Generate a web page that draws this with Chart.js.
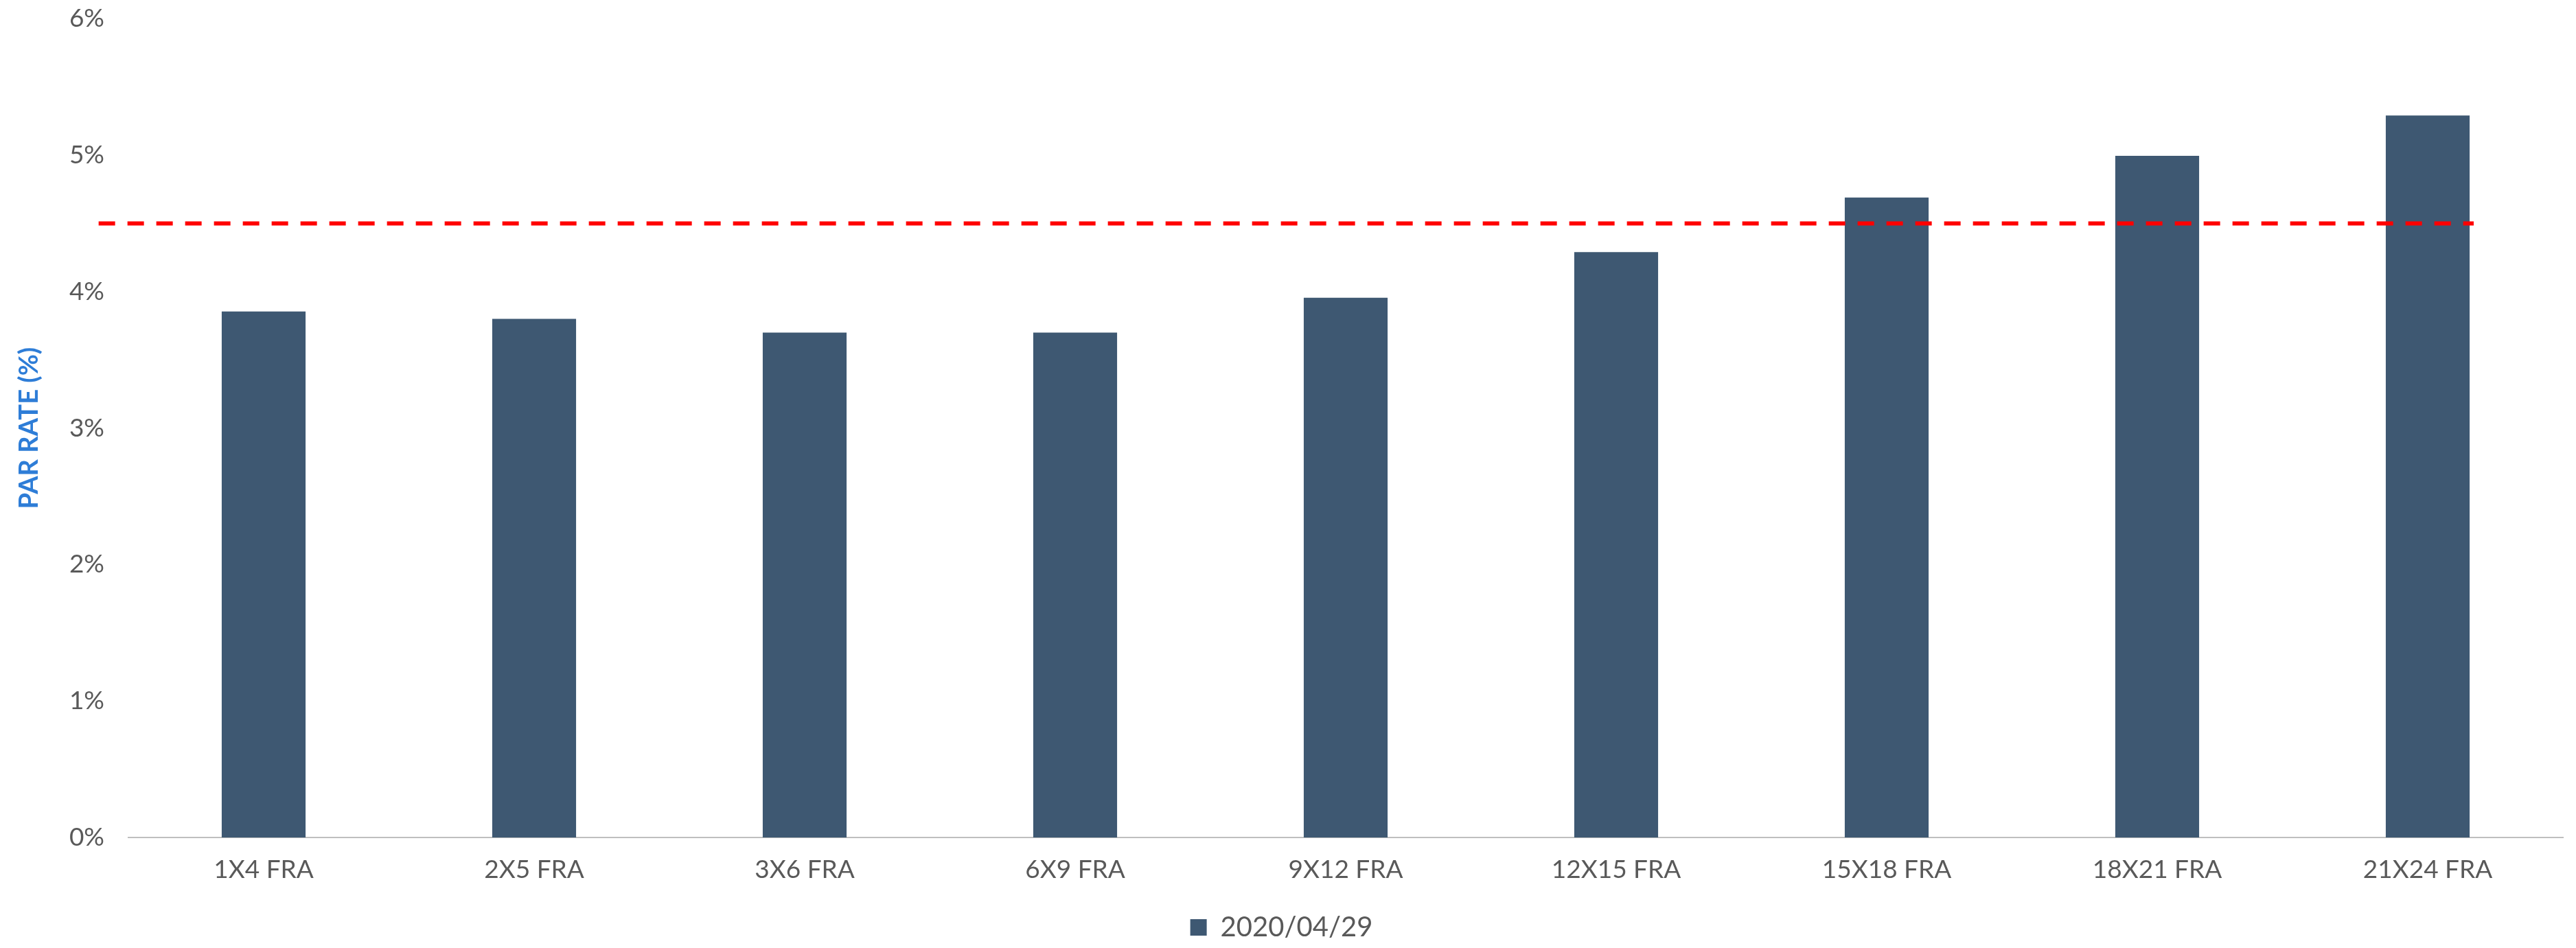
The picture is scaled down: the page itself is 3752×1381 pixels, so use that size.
<!DOCTYPE html>
<html>
<head>
<meta charset="utf-8">
<script src="https://cdn.jsdelivr.net/npm/chart.js@4"></script>
<style>
  html, body { margin: 0; padding: 0; background: #ffffff; }
  #wrap { width: 3752px; height: 1381px; position: relative; }
</style>
</head>
<body>
<div id="wrap"><canvas id="c" width="3752" height="1381"></canvas></div>
<script>
const categories = ['1X4 FRA', '2X5 FRA', '3X6 FRA', '6X9 FRA', '9X12 FRA', '12X15 FRA', '15X18 FRA', '18X21 FRA', '21X24 FRA'];
const seriesName = '2020/04/29';
const parRates = [3.855, 3.80, 3.70, 3.70, 3.955, 4.29, 4.69, 4.995, 5.29];
const refLevel = 4.5;
const refLineX = [-0.61, 8.17];
const yTicks = [0, 1, 2, 3, 4, 5, 6];

const FONT = 'Lato, "Open Sans", sans-serif';
const TXT = '#595959';

new Chart(document.getElementById('c'), {
  type: 'bar',
  data: {
    labels: categories,
    datasets: [
      {
        type: 'bar',
        label: seriesName,
        data: parRates,
        backgroundColor: '#3E5872',
        borderWidth: 0,
        barPercentage: 0.31,
        categoryPercentage: 1.0,
        grouped: false,
        order: 1
      },
      {
        type: 'line',
        label: 'ref',
        xAxisID: 'x2',
        data: refLineX.map(x => ({ x: x, y: refLevel })),
        borderColor: '#FF0000',
        borderWidth: 6,
        borderDash: [24, 18],
        pointRadius: 0,
        fill: false,
        clip: false,
        order: 0
      }
    ]
  },
  options: {
    responsive: false,
    animation: false,
    layout: { padding: { top: 0, right: 19, left: 0, bottom: 0 } },
    plugins: {
      tooltip: { enabled: false },
      legend: {
        position: 'bottom',
        labels: {
          filter: (item) => item.text !== 'ref',
          boxWidth: 24,
          boxHeight: 24,
          color: TXT,
          font: { family: FONT, size: 40 },
          padding: 10
        }
      }
    },
    scales: {
      x: {
        type: 'category',
        grid: { display: false, drawTicks: false },
        border: { display: true, color: '#BFBFBF', width: 2 },
        ticks: { color: TXT, font: { family: FONT, size: 37 }, padding: 25, maxRotation: 0 },
        afterFit: (scale) => {
          const legendH = scale.chart.legend ? scale.chart.legend.height : 0;
          scale.height = 1381 - 1220 - legendH;
        }
      },
      x2: {
        type: 'linear',
        display: false,
        offset: false,
        min: -0.5,
        max: 8.5
      },
      y: {
        min: 0,
        max: 6,
        grid: { display: false, drawTicks: true, tickLength: 30 },
        border: { display: false },
        afterBuildTicks: (scale) => { scale.ticks = yTicks.map(v => ({ value: v })); },
        ticks: {
          color: TXT,
          font: { family: FONT, size: 37 },
          padding: 5,
          callback: (v) => v + '%'
        },
        title: {
          display: true,
          text: 'PAR RATE (%)',
          color: '#2E7DD7',
          font: { family: FONT, size: 38, weight: 'bold' },
          padding: { top: 20, bottom: 0 }
        },
        afterFit: (scale) => { scale.width = 187; }
      }
    }
  }
});
</script>
</body>
</html>
